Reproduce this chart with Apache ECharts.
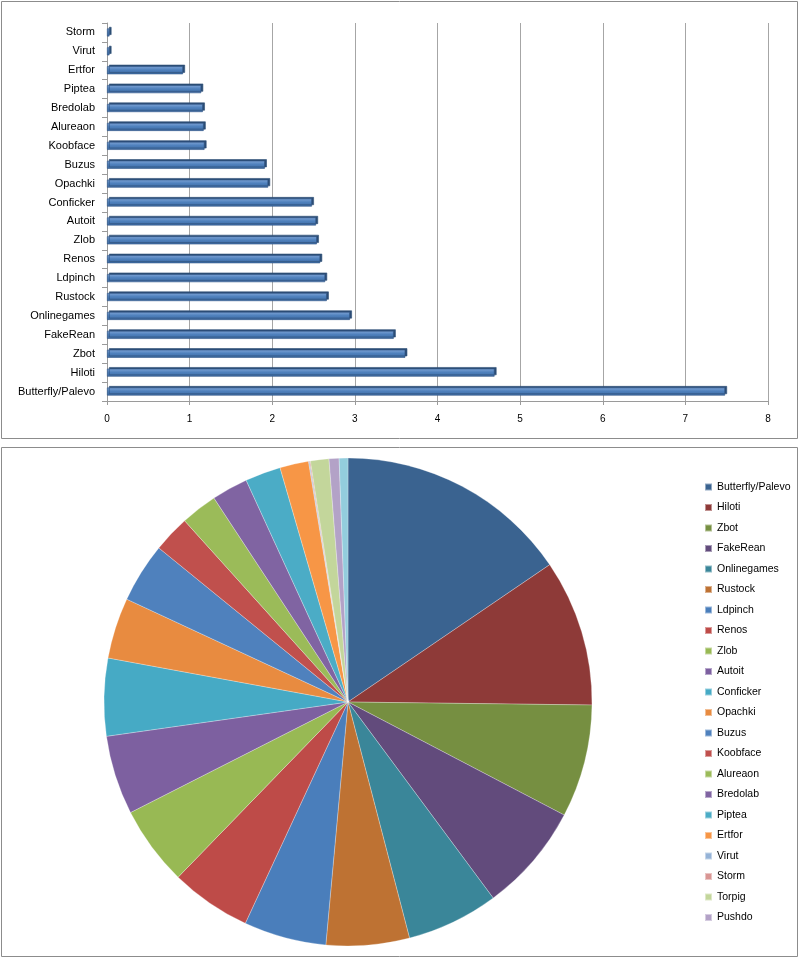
<!DOCTYPE html>
<html>
<head>
<meta charset="utf-8">
<script src="https://cdn.jsdelivr.net/npm/echarts@6/dist/echarts.min.js"></script>
<style>
  html, body { margin: 0; padding: 0; background: #fff; }
  #main { width: 800px; height: 959px; }
</style>
</head>
<body>
<div id="main"></div>
<script>
// categories, bottom to top in the bar chart, clockwise in the pie
var names = ['Butterfly/Palevo', 'Hiloti', 'Zbot', 'FakeRean', 'Onlinegames', 'Rustock',
    'Ldpinch', 'Renos', 'Zlob', 'Autoit', 'Conficker', 'Opachki', 'Buzus', 'Koobface',
    'Alureaon', 'Bredolab', 'Piptea', 'Ertfor', 'Virut', 'Storm'];
var values = [7.48, 4.69, 3.61, 3.47, 2.94, 2.66, 2.64, 2.58, 2.54, 2.53, 2.48,
    1.95, 1.91, 1.18, 1.17, 1.16, 1.14, 0.92, 0.03, 0.03];

// pie only: extra slices (the last one has no legend entry in the picture)
var extraNames = ['Torpig', 'Pushdo', ''];
var extraValues = [0.59, 0.32, 0.28];

var xTicks = [0, 1, 2, 3, 4, 5, 6, 7, 8];

var pieColors = ['#3A6390', '#8E3A38', '#768F41', '#624B7C', '#3A8699', '#BE7233',
    '#4A7EBB', '#BE4B48', '#98B954', '#7D60A0', '#46AAC5', '#E88B40',
    '#4F81BD', '#C0504D', '#9BBB59', '#8064A2', '#4BACC6', '#F79646',
    '#95B3D7', '#D99694', '#C3D69B', '#B3A2C7', '#93CDDD'];

var myChart = echarts.init(document.getElementById('main'));

var pieData = [];
names.concat(extraNames).forEach(function (n, i) {
    pieData.push({ name: n, value: values.concat(extraValues)[i] });
});

var font = 'Liberation Sans';

option = {
    animation: false,
    color: pieColors,
    graphic: [
        { type: 'rect', shape: { x: 1.5, y: 1.5, width: 796, height: 437 },
          style: { fill: 'none', stroke: '#8C8C8C', lineWidth: 1 } },
        { type: 'rect', shape: { x: 1.5, y: 447.5, width: 796, height: 509 },
          style: { fill: 'none', stroke: '#8C8C8C', lineWidth: 1 } }
    ],
    grid: {
        left: 107,
        right: 32,
        top: 23,
        height: 378
    },
    xAxis: {
        type: 'value',
        min: xTicks[0],
        max: xTicks[xTicks.length - 1],
        interval: 1,
        axisLine: { show: true, lineStyle: { color: '#9A9A9A' } },
        axisTick: { show: true, length: 4, lineStyle: { color: '#9A9A9A' } },
        axisLabel: { color: '#000', fontFamily: font, fontSize: 10, margin: 13 },
        splitLine: { show: true, lineStyle: { color: '#A6A6A6', width: 1 } }
    },
    yAxis: {
        type: 'category',
        data: names,
        axisLine: { show: true, lineStyle: { color: '#9A9A9A' } },
        axisTick: { show: true, length: 5, lineStyle: { color: '#9A9A9A' } },
        axisLabel: { color: '#000', fontFamily: font, fontSize: 11, margin: 12 }
    },
    legend: {
        orient: 'vertical',
        left: 699,
        top: 475,
        data: names.concat(extraNames.slice(0, 2)),
        itemWidth: 7,
        itemHeight: 7,
        itemGap: 6.5,
        icon: 'rect',
        selectedMode: false,
        textStyle: { color: '#000', fontFamily: font, fontSize: 10.5, lineHeight: 14 }
    },
    series: [
        {
            name: 'bars',
            type: 'bar',
            data: values,
            barWidth: 8,
            itemStyle: {
                color: new echarts.graphic.LinearGradient(0, 0, 0, 1, [
                    { offset: 0, color: '#7FA4D6' },
                    { offset: 0.45, color: '#4F81BD' },
                    { offset: 1, color: '#3E6BA3' }
                ]),
                borderColor: '#2F5485',
                borderWidth: 0.6,
                shadowColor: '#2C4D75',
                shadowOffsetX: 2,
                shadowOffsetY: -1.5,
                shadowBlur: 0
            }
        },
        {
            name: 'pie',
            type: 'pie',
            center: [348, 702],
            radius: 244,
            startAngle: 90,
            clockwise: true,
            label: { show: false },
            labelLine: { show: false },
            itemStyle: { borderColor: 'rgba(255,255,255,0.45)', borderWidth: 0.6 },
            emphasis: { disabled: true },
            data: pieData
        }
    ]
};

myChart.setOption(option);
</script>
</body>
</html>
